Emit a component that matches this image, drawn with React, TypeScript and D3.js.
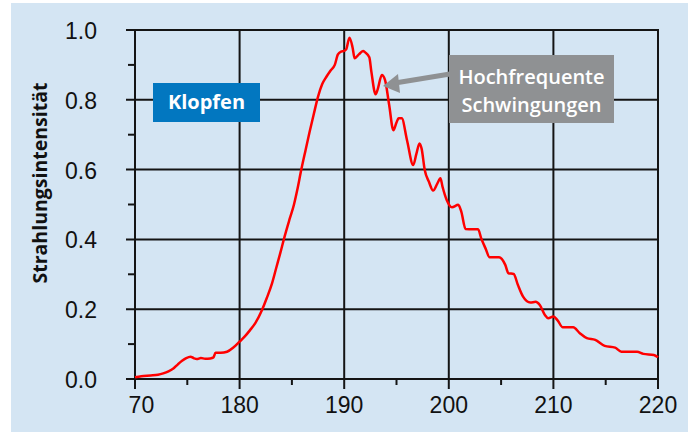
import { useEffect, useRef } from 'react';
import * as d3 from 'd3';

// Kurbelwinkel (°KW) und gemessene Strahlungsintensität
const angles = [
  170.0, 170.6, 171.5, 172.2, 172.7, 173.2, 173.7, 174.1, 174.5, 174.9,
  175.3, 175.6, 175.9, 176.3, 176.7, 177.2, 177.5, 177.7, 178.2, 178.8,
  179.4, 180.0, 180.5, 181.0, 181.5, 182.1, 182.6, 183.1, 183.5, 183.9,
  184.3, 184.8, 185.2, 185.5, 185.9, 186.3, 186.7, 187.1, 187.5, 187.9,
  188.3, 188.7, 189.1, 189.4, 189.7, 190.0, 190.2, 190.5, 190.8, 191.0,
  191.4, 191.8, 192.0, 192.4, 192.6, 193.0, 193.2, 193.6, 193.9, 194.3,
  194.7, 195.0, 195.2, 195.5, 196.0, 196.6, 196.9, 197.2, 197.4, 197.7,
  198.1, 198.5, 198.9, 199.2, 199.4, 199.8, 200.3, 200.9, 201.2, 201.6,
  202.3, 202.8, 203.1, 203.5, 203.9, 204.8, 205.4, 205.7, 206.2, 206.6,
  207.1, 207.8, 208.3, 208.7, 209.2, 209.5, 210.0, 210.4, 210.9, 211.9,
  212.5, 213.2, 214.0, 214.9, 215.9, 216.5, 218.0, 218.6, 219.6, 220.0
];
const intensity = [
  0.005, 0.008, 0.010, 0.012, 0.016, 0.022, 0.031, 0.042, 0.052, 0.060,
  0.064, 0.060, 0.057, 0.060, 0.058, 0.059, 0.062, 0.075, 0.075, 0.078,
  0.090, 0.107, 0.122, 0.140, 0.160, 0.195, 0.232, 0.274, 0.318, 0.362,
  0.408, 0.460, 0.500, 0.540, 0.600, 0.655, 0.709, 0.760, 0.809, 0.845,
  0.866, 0.884, 0.900, 0.930, 0.938, 0.940, 0.945, 0.978, 0.950, 0.919,
  0.930, 0.940, 0.936, 0.922, 0.880, 0.816, 0.830, 0.871, 0.857, 0.785,
  0.713, 0.735, 0.747, 0.747, 0.685, 0.613, 0.645, 0.675, 0.660, 0.599,
  0.565, 0.540, 0.560, 0.575, 0.551, 0.513, 0.492, 0.499, 0.479, 0.430,
  0.429, 0.429, 0.403, 0.375, 0.349, 0.349, 0.327, 0.303, 0.301, 0.270,
  0.236, 0.219, 0.221, 0.212, 0.183, 0.174, 0.179, 0.168, 0.148, 0.148,
  0.132, 0.117, 0.112, 0.095, 0.090, 0.078, 0.078, 0.072, 0.069, 0.062
];

const xTicks = [170, 180, 190, 200, 210, 220];
const xMinorTicks = [175, 185, 195, 205, 215];
const yTicks = [0, 0.2, 0.4, 0.6, 0.8, 1.0];
const yMinorTicks = [0.1, 0.3, 0.5, 0.7, 0.9];

const yTitle = 'Strahlungsintensität';
const boxLabel = 'Klopfen';
const noteLines = ['Hochfrequente', 'Schwingungen'];

export default function App() {
  const svgRef = useRef<SVGSVGElement>(null);

  useEffect(() => {
    const width = 696;
    const height = 432;
    const left = 135, right = 658, top = 30, bottom = 379;
    const gridColor = '#141414';
    const sans = 'Open Sans, sans-serif';

    const svg = d3.select(svgRef.current);
    svg.selectAll('*').remove();
    svg.attr('width', width).attr('height', height);

    // Hintergrund
    svg.append('rect').attr('width', width).attr('height', height).attr('fill', '#fff');
    svg.append('rect')
      .attr('x', 11).attr('y', 3).attr('width', 677).attr('height', 429)
      .attr('fill', '#d4e5f3');

    const x = d3.scaleLinear().domain([170, 220]).range([left, right]);
    const y = d3.scaleLinear().domain([0, 1]).range([bottom, top]);

    const grid = svg.append('g').attr('stroke', gridColor).attr('stroke-width', 2);

    // horizontale Gitterlinien + Ticks links
    grid.selectAll('line.h').data(yTicks).enter().append('line')
      .attr('x1', left - 9).attr('x2', right)
      .attr('y1', d => y(d)).attr('y2', d => y(d));
    grid.selectAll('line.hm').data(yMinorTicks).enter().append('line')
      .attr('x1', left - 7).attr('x2', left)
      .attr('y1', d => y(d)).attr('y2', d => y(d));

    // vertikale Gitterlinien + Ticks unten
    grid.selectAll('line.v').data(xTicks).enter().append('line')
      .attr('x1', d => x(d)).attr('x2', d => x(d))
      .attr('y1', top - 1).attr('y2', bottom + 10);
    grid.selectAll('line.vm').data(xMinorTicks).enter().append('line')
      .attr('x1', d => x(d)).attr('x2', d => x(d))
      .attr('y1', bottom).attr('y2', bottom + 6);

    // Achsenbeschriftung Y
    svg.append('g').selectAll('text').data(yTicks).enter().append('text')
      .attr('x', 97).attr('y', d => y(d) + 9)
      .attr('text-anchor', 'end')
      .attr('font-family', 'Liberation Sans, Arial, sans-serif')
      .attr('font-size', 23)
      .attr('fill', '#111')
      .text(d => d.toFixed(1));

    // Achsenbeschriftung X (erste Zahl links angeschnitten)
    svg.append('clipPath').attr('id', 'xclip')
      .append('rect').attr('x', 129).attr('y', 385).attr('width', 567).attr('height', 47);
    svg.append('g').attr('clip-path', 'url(#xclip)')
      .selectAll('text').data(xTicks).enter().append('text')
      .attr('x', d => x(d)).attr('y', 413)
      .attr('text-anchor', 'middle')
      .attr('font-family', 'Liberation Sans, Arial, sans-serif')
      .attr('font-size', 23)
      .attr('fill', '#111')
      .text(d => String(d));

    // Titel Y-Achse
    svg.append('text')
      .attr('transform', 'translate(47,183) rotate(-90)')
      .attr('text-anchor', 'middle')
      .attr('font-family', sans)
      .attr('font-weight', 700)
      .attr('font-size', 19)
      .attr('textLength', 201)
      .attr('lengthAdjust', 'spacingAndGlyphs')
      .attr('fill', '#111')
      .text(yTitle);

    // Messkurve
    const points = angles.map((a, i) => [a, intensity[i]] as [number, number]);
    const line = d3.line<[number, number]>()
      .x(d => x(d[0]))
      .y(d => y(d[1]))
      .curve(d3.curveMonotoneX);
    svg.append('path')
      .attr('d', line(points))
      .attr('fill', 'none')
      .attr('stroke', '#ff0000')
      .attr('stroke-width', 2.5)
      .attr('stroke-linejoin', 'round');

    // Kasten "Klopfen"
    svg.append('rect')
      .attr('x', 153).attr('y', 83).attr('width', 107).attr('height', 39)
      .attr('fill', '#0277c0');
    svg.append('text')
      .attr('x', 206.5).attr('y', 109)
      .attr('text-anchor', 'middle')
      .attr('font-family', sans)
      .attr('font-weight', 700)
      .attr('font-size', 20)
      .attr('fill', '#fff')
      .text(boxLabel);

    // Pfeil + Hinweis
    const grey = '#8f9193';
    svg.append('line')
      .attr('x1', 450).attr('y1', 74).attr('x2', 395).attr('y2', 83)
      .attr('stroke', grey).attr('stroke-width', 5);
    svg.append('path')
      .attr('d', 'M383,86 L398,74 L400,93 Z')
      .attr('fill', grey);
    svg.append('rect')
      .attr('x', 449).attr('y', 55).attr('width', 165).attr('height', 68)
      .attr('fill', grey);
    svg.append('g').selectAll('text').data(noteLines).enter().append('text')
      .attr('x', 531.5).attr('y', (d, i) => 84 + i * 28)
      .attr('text-anchor', 'middle')
      .attr('font-family', sans)
      .attr('font-weight', 600)
      .attr('font-size', 20)
      .attr('fill', '#fff')
      .text(d => d);
  }, []);

  return (
    <div style={{ position: 'absolute', left: 0, top: 0 }}>
      <svg ref={svgRef} style={{ display: 'block' }}></svg>
    </div>
  );
}
